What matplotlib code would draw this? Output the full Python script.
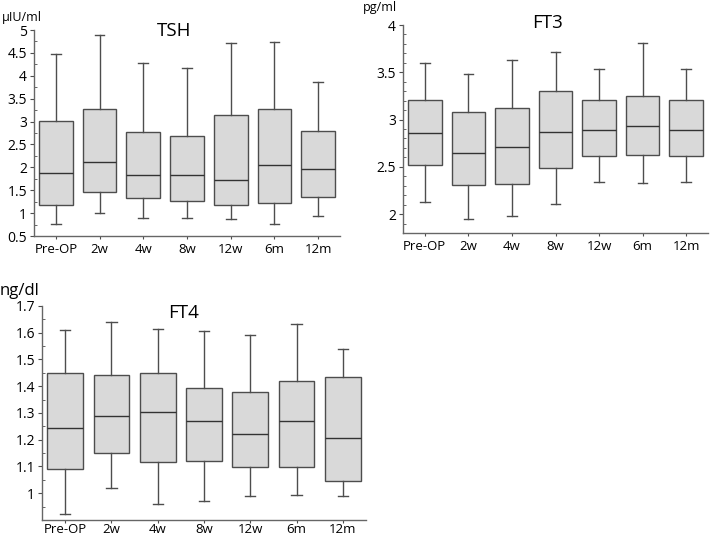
import matplotlib
matplotlib.use("Agg")
import matplotlib.pyplot as plt
from matplotlib.ticker import MultipleLocator, FormatStrFormatter, FixedLocator

plt.rcParams['font.family'] = ['Open Sans', 'DejaVu Sans']

groups = ["Pre-OP", "2w", "4w", "8w", "12w", "6m", "12m"]

# TSH (uIU/ml)
tsh_lo = [0.77, 1.00, 0.90, 0.90, 0.88, 0.77, 0.93]
tsh_q1 = [1.18, 1.46, 1.34, 1.27, 1.18, 1.23, 1.36]
tsh_med = [1.88, 2.12, 1.84, 1.84, 1.72, 2.05, 1.96]
tsh_q3 = [3.02, 3.27, 2.77, 2.68, 3.15, 3.27, 2.80]
tsh_hi = [4.48, 4.90, 4.27, 4.16, 4.72, 4.74, 3.86]

# FT3 (pg/ml)
ft3_lo = [2.13, 1.95, 1.98, 2.11, 2.34, 2.33, 2.34]
ft3_q1 = [2.52, 2.31, 2.32, 2.49, 2.61, 2.62, 2.61]
ft3_med = [2.86, 2.65, 2.71, 2.87, 2.89, 2.93, 2.89]
ft3_q3 = [3.21, 3.08, 3.12, 3.30, 3.21, 3.25, 3.21]
ft3_hi = [3.60, 3.48, 3.63, 3.71, 3.54, 3.81, 3.54]

# FT4 (ng/dl)
ft4_lo = [0.923, 1.018, 0.961, 0.970, 0.990, 0.995, 0.990]
ft4_q1 = [1.090, 1.150, 1.115, 1.120, 1.099, 1.099, 1.046]
ft4_med = [1.245, 1.287, 1.304, 1.270, 1.221, 1.270, 1.207]
ft4_q3 = [1.449, 1.441, 1.449, 1.395, 1.378, 1.420, 1.433]
ft4_hi = [1.609, 1.639, 1.613, 1.605, 1.592, 1.634, 1.538]
ft4_ticks = [1.0, 1.1, 1.2, 1.3, 1.4, 1.5, 1.6, 1.7]

edge = "#4d4d4d"
face = "#d9d9d9"


def make_stats(lo, q1, med, q3, hi):
    stats = []
    for i in range(len(groups)):
        stats.append({"whislo": lo[i], "q1": q1[i], "med": med[i],
                      "q3": q3[i], "whishi": hi[i], "fliers": []})
    return stats


def draw_panel(rect, stats, ylim, major, minor, title, tpos, xpad=2):
    ax = fig.add_axes(rect)
    ax.bxp(stats, positions=range(len(groups)), widths=0.77, patch_artist=True,
           showfliers=False, capwidths=0.22,
           boxprops=dict(facecolor=face, edgecolor=edge, linewidth=1.0),
           medianprops=dict(color="#333333", linewidth=1.0),
           whiskerprops=dict(color=edge, linewidth=1.0),
           capprops=dict(color=edge, linewidth=1.0))
    ax.set_xlim(-0.5, len(groups) - 0.5)
    ax.set_ylim(ylim)
    ax.set_xticks(range(len(groups)))
    ax.set_xticklabels(groups, fontsize=9.5)
    ax.yaxis.set_major_locator(MultipleLocator(major))
    ax.yaxis.set_minor_locator(MultipleLocator(minor))
    ax.yaxis.set_major_formatter(FormatStrFormatter("%g"))
    ax.tick_params(axis="y", which="major", direction="out", length=3,
                   color=edge, labelsize=10, pad=2)
    ax.tick_params(axis="y", which="minor", direction="in", length=2.5, color=edge)
    ax.tick_params(axis="x", direction="out", length=2, color=edge, pad=xpad)
    for s in ["top", "right"]:
        ax.spines[s].set_visible(False)
    for s in ["left", "bottom"]:
        ax.spines[s].set_color("#666666")
        ax.spines[s].set_linewidth(1.0)
    ax.text(tpos[0], tpos[1], title, transform=ax.transAxes, fontsize=13.5,
            ha="center", va="center")
    return ax


fig = plt.figure(figsize=(7.1, 5.38), dpi=100)

ax1 = draw_panel([0.0479, 0.5613, 0.431, 0.3829],
                 make_stats(tsh_lo, tsh_q1, tsh_med, tsh_q3, tsh_hi),
                 (0.5, 5), 0.5, 0.25, "TSH", (0.457, 0.995), xpad=3)
ax2 = draw_panel([0.5676, 0.5669, 0.4296, 0.3866],
                 make_stats(ft3_lo, ft3_q1, ft3_med, ft3_q3, ft3_hi),
                 (1.8, 4), 0.5, 0.1, "FT3", (0.475, 1.01), xpad=3)
ax3 = draw_panel([0.0592, 0.0335, 0.4563, 0.3978],
                 make_stats(ft4_lo, ft4_q1, ft4_med, ft4_q3, ft4_hi),
                 (0.9, 1.7), 0.1, 0.05, "FT4", (0.438, 0.967), xpad=0.5)
ax3.yaxis.set_major_locator(FixedLocator(ft4_ticks))

fig.text(2 / 710, 1 - 17 / 538, "μIU/ml", fontsize=9, ha="left", va="center")
fig.text(363 / 710, 1 - 8 / 538, "pg/ml", fontsize=9, ha="left", va="center")
fig.text(0 / 710, 1 - 291 / 538, "ng/dl", fontsize=12, ha="left", va="center")

fig.savefig("out.png", dpi=100)
